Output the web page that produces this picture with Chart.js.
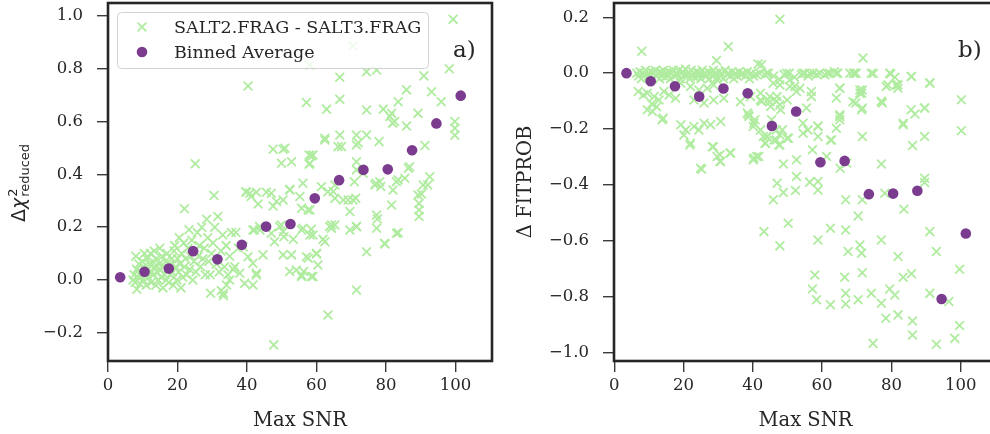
<!DOCTYPE html>
<html>
<head>
<meta charset="utf-8">
<title>SALT2 vs SALT3 fit quality</title>
<script src="https://cdn.jsdelivr.net/npm/chart.js@4.4.1/dist/chart.umd.min.js"></script>
<style>
  html, body { margin: 0; padding: 0; background: #fff; overflow: hidden; width: 990px; height: 434px; }
  canvas { position: absolute; top: 0; }
  #chiChart { left: 0; }
  #probChart { left: 495px; }
</style>
</head>
<body>
<canvas id="chiChart" width="495" height="434"></canvas>
<canvas id="probChart" width="505" height="434"></canvas>
<script>
// [max SNR, delta reduced chi2] per SN
const chiPoints = [
  [7.2,0.0],[7.5,0.02],[7.8,-0.01],[8.0,0.09],[8.2,0.04],[8.3,-0.035],[8.6,0.01],[8.9,0.06],[9.1,0.02],[9.3,-0.015],
  [9.6,0.03],[9.9,0.07],[10.1,0.0],[10.3,0.05],[10.5,0.1],[10.8,0.02],[11.0,-0.02],[11.2,0.08],[11.5,0.04],[11.7,0.01],
  [12.0,0.06],[12.2,0.1],[12.4,-0.01],[12.6,0.03],[12.9,0.07],[13.1,0.02],[13.3,0.11],[13.5,0.05],[13.8,-0.02],[14.0,0.08],
  [14.2,0.03],[14.4,0.0],[14.7,0.06],[14.9,0.12],[15.1,0.04],[15.3,0.01],[15.6,0.09],[15.8,-0.03],[16.0,0.05],[16.3,0.02],
  [16.5,0.07],[16.8,0.0],[17.0,0.1],[17.2,0.04],[17.5,-0.01],[17.8,0.06],[18.0,0.02],[18.3,0.08],[18.5,0.03],[18.8,-0.02],
  [19.0,0.11],[19.2,0.13],[19.5,0.05],[19.8,0.0],[20.0,0.08],[20.3,0.03],[20.5,0.16],[20.7,0.06],[21.0,-0.03],[21.2,0.1],
  [21.5,0.01],[21.8,0.14],[22.0,0.27],[22.0,0.05],[22.3,0.08],[22.6,0.02],[23.0,0.12],[23.3,0.19],[23.5,0.04],[23.8,0.09],
  [24.1,0.15],[24.4,0.0],[24.7,0.07],[25.0,0.11],[25.1,0.44],[25.3,0.03],[25.7,0.18],[26.0,0.09],[26.3,0.13],[26.6,0.05],
  [27.0,0.2],[27.3,0.08],[27.7,0.12],[28.0,0.02],[28.4,0.23],[28.7,0.16],[29.0,0.07],[29.4,0.02],[29.5,-0.05],[29.8,0.1],
  [30.2,0.14],[30.5,0.32],[30.7,0.2],[31.2,0.06],[31.6,0.24],[32.0,0.03],[32.5,0.11],[32.6,-0.04],[33.0,0.17],[33.2,-0.06],
  [33.5,0.05],[34.0,0.13],[34.5,0.02],[35.0,0.09],[35.5,0.18],[36.0,0.04],[36.8,0.18],[37.5,0.12],
  [37.9,0.025],[36.5,0.05],[35.0,0.0],[34.1,-0.019],[33.2,-0.05],[38.9,0.126],[40.3,0.088],[41.7,0.063],[42.7,0.019],[41.7,-0.019],
  [39.3,-0.013],[39.7,0.334],[41.2,0.316],[42.1,0.189],[40.3,0.735],[39.8,0.332],[42.7,0.332],[45.6,0.332],[40.8,0.328],[47.0,0.328],
  [48.5,0.297],[50.4,0.303],[52.3,0.341],[55.2,0.316],[55.7,0.272],[58.1,0.265],[43.2,0.288],[47.5,0.28],[41.7,0.189],[43.6,0.202],
  [43.7,0.189],[49.4,0.202],[50.4,0.183],[56.1,0.196],[58.1,0.17],[62.4,0.145],[47.0,0.177],[47.9,0.145],[50.6,0.164],[53.3,0.154],
  [44.6,0.095],[50.4,0.095],[52.8,0.095],[57.1,0.088],[60.0,0.101],[60.4,0.057],[42.7,0.025],[52.3,0.032],[54.2,0.038],[55.7,0.019],
  [58.5,0.013],[59.0,0.013],[47.7,-0.246],[47.5,0.495],[50.4,0.495],[49.9,0.442],[52.8,0.448],[58.1,0.442],[58.5,0.47],[56.1,0.366],
  [52.3,0.343],[57.6,0.265],[49.9,0.208],[55.7,0.189],[58.5,0.192],[59.0,0.17],
  [99.3,0.987],[70.5,0.886],[58.1,0.814],[66.7,0.768],[66.7,0.684],[74.4,0.789],[77.3,0.795],[90.9,0.773],[98.2,0.80],[57.1,0.672],
  [62.9,0.647],[74.4,0.644],[79.2,0.647],[81.6,0.631],[82.5,0.6],[81.1,0.619],[85.9,0.72],[83.5,0.675],[85.9,0.583],[89.2,0.631],
  [93.1,0.713],[95.9,0.675],[99.8,0.60],[99.8,0.575],[99.8,0.548],[91.2,0.509],[62.4,0.537],[66.7,0.549],[71.5,0.549],[71.5,0.511],
  [66.2,0.505],[67.2,0.505],[78.0,0.524],[50.9,0.499],[59.0,0.473],[71.5,0.448],[71.5,0.417],[86.8,0.429],[81.9,0.594],[61.4,0.353],
  [63.3,0.334],[65.3,0.309],[70.5,0.303],[71.3,0.309],[76.8,0.36],[78.2,0.372],[82.0,0.341],[83.0,0.372],[64.3,0.208],[69.6,0.189],
  [71.5,0.202],[77.3,0.196],[79.7,0.136],[83.0,0.177],[74.4,0.107],[71.5,-0.038],[63.3,-0.133],[86.4,0.423],[85.4,0.385],[83.5,0.379],
  [81.6,0.284],[92.6,0.391],[90.7,0.36],[89.2,0.322],[89.5,0.29],[89.5,0.265],[89.5,0.24],[83.5,0.179],[65.3,0.208],[64.3,0.196],
  [61.9,0.154],[69.1,0.303],[67.7,0.303],[69.6,0.259],[77.3,0.246],[77.5,0.231],[60.0,0.098],[57.6,0.082],[55.7,0.013],[56.3,0.032],
  [63.8,0.202],[71.5,0.202],[73.4,0.404],[70.9,0.372],[65.3,0.36],[64.8,0.335],[74.4,0.549],[72.0,0.52],[57.9,0.438],[57.9,0.473],
  [62.4,0.53],[79.6,0.139],[78.5,0.354],[77.1,0.366],[92.0,0.36],[90.2,0.326]
];

// [max SNR, delta FITPROB] per SN
const probPoints = [
  [6.5,0.0],[7.0,-0.01],[7.4,0.005],[7.8,-0.02],[8.2,0.0],[8.6,-0.005],[9.0,0.01],[9.4,-0.015],[9.8,0.0],[10.2,-0.01],
  [10.6,0.005],[11.0,-0.02],[11.4,0.0],[11.8,0.01],[12.2,-0.01],[12.6,0.0],[13.0,-0.02],[13.4,0.005],[13.8,-0.005],[14.2,0.01],
  [14.6,-0.015],[15.0,0.0],[15.4,-0.01],[15.8,0.005],[16.2,-0.02],[16.6,0.0],[17.0,0.01],[17.4,-0.01],[17.8,0.0],[18.2,-0.005],
  [18.6,0.01],[19.0,-0.02],[19.4,0.0],[19.8,0.005],[20.2,-0.01],[20.6,0.015],[21.0,-0.005],[21.4,0.0],[21.8,-0.02],[22.2,0.01],
  [22.6,-0.01],[23.0,0.0],[23.4,-0.015],[23.8,0.005],[24.2,-0.01],[24.6,0.0],[25.0,-0.02],[25.4,0.01],[25.8,-0.005],[26.2,0.0],
  [26.6,-0.01],[27.0,0.005],[27.4,-0.02],[27.8,0.0],[28.2,-0.01],[28.6,0.01],[29.0,-0.005],[29.4,0.0],[29.8,-0.015],[30.2,0.005],
  [30.6,-0.01],[31.0,0.0],[31.5,-0.02],[32.0,0.01],[32.5,-0.005],[33.0,0.0],[33.5,-0.01],[34.0,0.005],[34.5,-0.02],[35.0,0.0],
  [35.5,-0.01],[36.0,0.005],[36.6,-0.005],[37.2,0.0],[37.8,-0.01],[38.4,0.005],[39.0,-0.02],[39.6,0.0],[40.2,-0.01],[41.0,-0.005],
  [42.0,0.0],[43.5,-0.006],[44.5,0.0],[46.0,-0.01],[49.0,-0.005],[50.5,0.0],[52.0,-0.015],[54.0,-0.005],[55.0,0.0],[56.0,-0.01],
  [57.5,0.0],[58.5,-0.005],[60.8,-0.006],[61.5,0.0],[63.5,0.005],[64.5,0.0],[69.0,0.0],[69.8,0.0],[74.8,-0.001],[79.8,-0.002],
  [81.0,-0.015],[85.8,-0.012],[71.8,0.054],[47.8,0.193],[7.9,0.078],[32.9,0.095],[29.5,0.045],[41.5,0.033],[42.5,0.03],
  [44.0,0.0],[49.7,0.0],[54.5,0.0],[56.4,0.0],[59.3,0.0],[62.2,0.0],[64.1,0.0],[68.0,0.0],[69.4,0.0],[74.2,0.0],[79.5,0.0],[85.7,-0.012],[91.1,-0.034],
  [45.9,-0.036],[47.8,-0.024],[50.7,-0.024],[52.1,-0.048],[53.6,-0.054],[56.9,-0.066],[65.1,-0.054],[70.9,-0.06],[71.4,-0.072],[77.1,-0.102],
  [78.5,-0.048],[81.4,-0.042],[81.9,-0.054],[85.7,-0.131],[89.6,-0.125],[83.4,-0.185],
  [44.9,-0.102],[47.8,-0.113],[44.0,-0.227],[46.8,-0.239],[50.2,-0.233],[54.5,-0.215],[58.8,-0.191],[62.7,-0.239],[65.1,-0.149],[65.1,-0.167],
  [68.9,-0.102],[71.4,-0.131],
  [9.5,-0.072],[11.5,-0.084],[12.9,-0.096],[14.3,-0.066],[15.8,-0.078],[17.7,-0.09],[9.5,-0.131],[11.0,-0.137],[13.8,-0.167],
  [19.2,-0.185],[20.6,-0.203],[23.0,-0.191],[24.4,-0.203],[20.1,-0.221],[22.0,-0.251],[25.9,-0.179],[27.8,-0.185],[30.7,-0.173],
  [28.3,-0.263],[29.7,-0.298],[30.7,-0.316],[33.6,-0.286],[24.9,-0.34],[40.3,-0.304],[41.7,-0.298],
  [19.2,-0.036],[22.0,-0.048],[24.4,-0.06],[26.8,-0.054],[28.7,-0.042],[29.7,-0.024],[23.0,-0.096],[25.9,-0.107],[28.7,-0.096],[31.6,-0.09],
  [36.4,-0.102],[39.3,-0.084],[42.2,-0.072],[44.2,-0.096],[47.0,-0.084],[49.9,-0.096],[48.0,-0.131],[45.1,-0.119],[42.2,-0.096],
  [38.4,-0.143],[38.9,-0.155],[40.3,-0.179],[42.2,-0.203],[44.1,-0.227],[46.1,-0.239],[47.5,-0.257],[48.5,-0.203],[49.9,-0.233],[43.7,-0.251],
  [100.2,-0.095],[100.2,-0.206],[99.7,-0.702],[99.7,-0.903],[98.3,-0.949],[93.0,-0.970],[74.7,-0.967],[86.1,-0.937],[86.1,-0.887],[81.9,-0.865],
  [78.4,-0.877],[77.1,-0.823],[79.5,-0.772],[81.0,-0.794],[74.2,-0.788],[70.4,-0.811],[66.8,-0.788],[66.8,-0.826],[62.4,-0.829],[58.4,-0.811],
  [57.2,-0.772],[57.9,-0.722],[66.5,-0.730],[71.6,-0.714],[83.4,-0.730],[85.8,-0.718],[91.1,-0.788],[96.6,-0.817],[81.9,-0.656],[93.0,-0.638],
  [91.1,-0.567],[77.1,-0.597],[70.9,-0.615],[71.4,-0.644],[67.5,-0.638],[66.8,-0.561],[62.4,-0.555],[58.8,-0.597],[47.8,-0.618],[50.2,-0.537],
  [43.2,-0.567],[70.4,-0.511],[83.6,-0.487],[66.8,-0.453],[71.6,-0.453],[78.1,-0.43],[89.6,-0.376],[89.6,-0.391],[45.9,-0.453],[47.0,-0.394],
  [48.8,-0.427],[52.3,-0.42],[52.6,-0.37],[56.4,-0.39],[58.8,-0.388],[58.8,-0.418],[52.6,-0.31],[48.8,-0.325],[61.3,-0.298],[65.2,-0.34],
  [67.1,-0.322],[77.1,-0.325],[71.6,-0.227],[62.4,-0.239],[57.2,-0.274],[58.8,-0.227],[58.8,-0.189],[64.1,-0.197],[65.1,-0.155],[64.1,-0.089],
  [65.1,-0.054],[83.4,-0.179],[86.1,-0.259],[89.6,-0.227],[89.6,-0.125],[86.8,-0.146],[91.1,-0.036],[81.9,-0.042],[79.0,-0.042],[77.1,-0.101],
  [77.4,-0.107],[71.6,-0.06],[70.9,-0.072],[71.6,-0.125],[69.7,-0.107],[47.8,-0.042],[50.7,-0.048],[52.6,-0.066],[56.9,-0.084],[55.5,-0.125],
  [54.5,-0.179],[55.9,-0.203],[47.8,-0.221],[47.8,-0.257],[50.2,-0.233],[43.0,-0.227],[43.5,-0.251],[45.4,-0.167],[46.8,-0.203],[40.1,-0.191],
  [40.6,-0.167],[38.7,-0.149],[41.1,-0.298],[40.1,-0.31],[42.5,-0.101],[44.9,-0.084],[46.8,-0.101],[33.4,-0.286],[30.5,-0.292],[30.5,-0.316],
  [28.6,-0.263],[25.2,-0.344],[21.8,-0.257],[14.1,-0.161],[8.4,-0.078],[6.9,-0.066],[10.8,-0.11],[12.2,-0.12]
];

// binned averages, 7-unit SNR bins
const binSnr = [3.5, 10.5, 17.5, 24.5, 31.5, 38.5, 45.5, 52.5, 59.5, 66.5, 73.5, 80.5, 87.5, 94.5, 101.5];
const binChi = [0.010, 0.031, 0.043, 0.109, 0.078, 0.133, 0.202, 0.212, 0.309, 0.378, 0.417, 0.419, 0.491, 0.593, 0.698];
const binProb = [0.0, -0.029, -0.047, -0.084, -0.055, -0.072, -0.189, -0.137, -0.319, -0.314, -0.433, -0.431, -0.421, -0.808, -0.574];

const snrTicks = [0, 20, 40, 60, 80, 100];
const chiTicks = [-0.2, 0.0, 0.2, 0.4, 0.6, 0.8, 1.0];
const probTicks = [-1.0, -0.8, -0.6, -0.4, -0.2, 0.0, 0.2];

const GREEN = '#b0eca0';
const PURPLE = '#7b3b8e';
const INK = '#262626';
const SERIF = "'DejaVu Serif', serif";
const CROSS_R = 6.2;
const DOT_R = 5.3;

function fmt(v) {
  return (v < 0 ? '\u2212' : '') + Math.abs(v).toFixed(1);
}

function datasets(points, binValues) {
  return [
    {
      label: 'SALT2.FRAG - SALT3.FRAG',
      data: points.map(p => ({x: p[0], y: p[1]})),
      pointStyle: 'crossRot',
      radius: CROSS_R,
      borderWidth: 1.8,
      borderColor: GREEN,
      backgroundColor: GREEN,
      order: 2
    },
    {
      label: 'Binned Average',
      data: binSnr.map((s, i) => ({x: s, y: binValues[i]})),
      pointStyle: 'circle',
      radius: DOT_R,
      borderWidth: 0,
      backgroundColor: PURPLE,
      borderColor: PURPLE,
      order: 1
    }
  ];
}

function makeOptions(cfg) {
  return {
    responsive: false,
    animation: false,
    devicePixelRatio: 1,
    events: [],
    layout: {autoPadding: false, padding: {top: 3, right: 3, left: 0, bottom: 0}},
    plugins: {legend: {display: false}, tooltip: {enabled: false}},
    scales: {
      x: {
        type: 'linear', min: cfg.xMin, max: 110.5,
        grid: {drawOnChartArea: false, tickLength: 11, color: '#3a3a3a', lineWidth: 1.4},
        border: {display: false},
        ticks: {font: {family: SERIF, size: 16.5}, color: INK, padding: 4, maxRotation: 0,
                callback: v => String(v)},
        afterBuildTicks: s => { s.ticks = snrTicks.map(v => ({value: v})); },
        afterFit: s => { s.height = 73; s.paddingLeft = 0; s.paddingRight = 0; },
        title: {display: true, text: 'Max SNR', color: INK, font: {family: SERIF, size: 19.5},
                padding: {top: 0, bottom: 1.3}}
      },
      y: {
        type: 'linear', min: cfg.yMin, max: cfg.yMax,
        grid: {drawOnChartArea: false, tickLength: 11, color: '#3a3a3a', lineWidth: 1.4},
        border: {display: false},
        ticks: {font: {family: SERIF, size: 16.5}, color: INK, padding: 14, callback: v => fmt(v)},
        afterBuildTicks: s => { s.ticks = cfg.yTicks.map(v => ({value: v})); },
        afterFit: s => { s.width = cfg.yWidth; s.paddingTop = 0; s.paddingBottom = 0; },
        title: cfg.yTitle ? {display: true, text: cfg.yTitle, color: INK,
                font: {family: SERIF, size: 19.5}, padding: {top: cfg.yTitlePad, bottom: 0}} : {display: false}
      }
    }
  };
}

// axes frame and panel tag
function framePlugin(tag, tagX) {
  return {
    id: 'frame',
    afterDraw(chart) {
      const {ctx, chartArea: a} = chart;
      ctx.save();
      ctx.strokeStyle = INK;
      ctx.lineWidth = 2.6;
      ctx.strokeRect(a.left, a.top, a.right - a.left, a.bottom - a.top);
      ctx.fillStyle = INK;
      ctx.font = '23px ' + SERIF;
      ctx.textAlign = 'left';
      ctx.textBaseline = 'alphabetic';
      ctx.fillText(tag, tagX, 57);
      ctx.restore();
    }
  };
}

// rounded legend box in the upper left of the left panel
const legendBox = {
  id: 'legendBox',
  afterDatasetsDraw(chart) {
    const ctx = chart.ctx;
    const ds = chart.data.datasets;
    const x0 = 117, y0 = 12, w = 311, h = 56, r = 4;
    ctx.save();
    ctx.beginPath();
    ctx.roundRect(x0 + 0.5, y0 + 0.5, w, h, r);
    ctx.fillStyle = 'rgba(255,255,255,0.8)';
    ctx.fill();
    ctx.strokeStyle = '#d2d2d2';
    ctx.lineWidth = 1;
    ctx.stroke();

    const mx = 142, rows = [27, 52];
    // cross marker
    const d = CROSS_R * Math.SQRT1_2;
    ctx.strokeStyle = GREEN;
    ctx.lineWidth = 1.8;
    ctx.beginPath();
    ctx.moveTo(mx - d, rows[0] - d); ctx.lineTo(mx + d, rows[0] + d);
    ctx.moveTo(mx - d, rows[0] + d); ctx.lineTo(mx + d, rows[0] - d);
    ctx.stroke();
    // dot marker
    ctx.fillStyle = PURPLE;
    ctx.beginPath();
    ctx.arc(mx, rows[1], DOT_R, 0, Math.PI * 2);
    ctx.fill();

    ctx.fillStyle = INK;
    ctx.font = '17.5px ' + SERIF;
    ctx.textBaseline = 'middle';
    ctx.textAlign = 'left';
    ctx.fillText(ds[0].label, 174, rows[0] + 1);
    ctx.fillText(ds[1].label, 174, rows[1] + 1);
    ctx.restore();
  }
};

// mathtext-style y label: Δχ²_reduced
const chiLabel = {
  id: 'chiLabel',
  afterDraw(chart) {
    const ctx = chart.ctx;
    const sans = "'DejaVu Sans', sans-serif";
    const parts = [
      {t: '\u0394', font: '19px ' + sans},
      {t: '\u03c7', font: 'italic 19px ' + sans},
    ];
    ctx.save();
    ctx.translate(25, 183);
    ctx.rotate(-Math.PI / 2);
    ctx.fillStyle = INK;
    ctx.textBaseline = 'alphabetic';
    ctx.textAlign = 'left';
    let w = 0;
    parts.forEach(p => { ctx.font = p.font; p.w = ctx.measureText(p.t).width; w += p.w; });
    ctx.font = '13px ' + sans;
    const supW = ctx.measureText('2').width;
    const subW = ctx.measureText('reduced').width;
    const total = w + 1 + Math.max(supW, subW);
    let x = -total / 2;
    parts.forEach(p => { ctx.font = p.font; ctx.fillText(p.t, x, 0); x += p.w; });
    x += 1;
    ctx.font = '13px ' + sans;
    ctx.fillText('2', x, -8);
    ctx.fillText('reduced', x, 4);
    ctx.restore();
  }
};

new Chart(document.getElementById('chiChart'), {
  type: 'scatter',
  data: {datasets: datasets(chiPoints, binChi)},
  options: makeOptions({xMin: 0, yMin: -0.307, yMax: 1.049, yTicks: chiTicks, yWidth: 108}),
  plugins: [legendBox, framePlugin('a)', 453), chiLabel]
});

new Chart(document.getElementById('probChart'), {
  type: 'scatter',
  data: {datasets: datasets(probPoints, binProb)},
  options: makeOptions({xMin: -0.1, yMin: -1.030, yMax: 0.251, yTicks: probTicks, yWidth: 119,
                        yTitle: '\u0394 FITPROB', yTitlePad: 19.3}),
  plugins: [framePlugin('b)', 463)]
});
</script>
</body>
</html>
